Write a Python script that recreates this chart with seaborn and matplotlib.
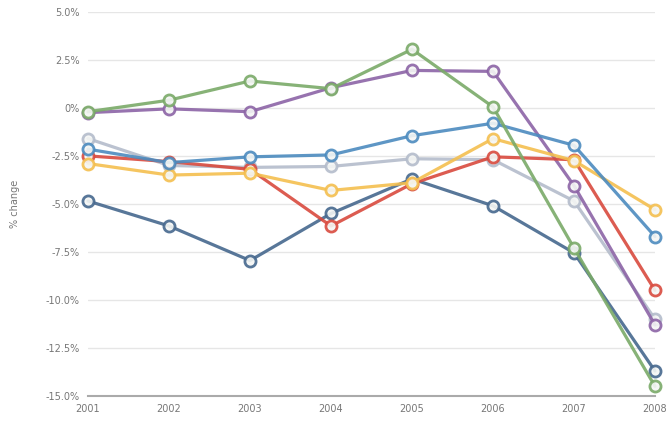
import pandas as pd
import seaborn as sns
import matplotlib.pyplot as plt

# years on the x axis
years = ['2001', '2002', '2003', '2004', '2005', '2006', '2007', '2008']

# % change per series
dark_blue = [-4.85, -6.15, -7.95, -5.5, -3.7, -5.1, -7.55, -13.7]
grey = [-1.6, -3.0, -3.1, -3.05, -2.65, -2.7, -4.85, -11.0]
purple = [-0.25, -0.05, -0.2, 1.05, 1.95, 1.9, -4.05, -11.3]
red = [-2.5, -2.8, -3.2, -6.15, -3.95, -2.55, -2.7, -9.5]
orange = [-2.9, -3.5, -3.4, -4.3, -3.9, -1.6, -2.75, -5.3]
blue = [-2.15, -2.85, -2.55, -2.45, -1.45, -0.8, -1.95, -6.7]
green = [-0.2, 0.4, 1.4, 1.0, 3.05, 0.05, -7.3, -14.5]

series = {
    'dark blue': dark_blue,
    'grey': grey,
    'purple': purple,
    'red': red,
    'orange': orange,
    'blue': blue,
    'green': green,
}
colors = {
    'dark blue': '#46688e',
    'grey': '#b4bccb',
    'purple': '#8c64a6',
    'red': '#d94a3e',
    'orange': '#f4bf4f',
    'blue': '#4c8bbf',
    'green': '#7aaa68',
}

rows = []
for name, vals in series.items():
    for i, v in enumerate(vals):
        rows.append({'pos': i, 'year': years[i], 'series': name, 'value': v})
df = pd.DataFrame(rows)

sns.set_style('white')
fig = plt.figure(figsize=(6.67, 4.23), dpi=100)
ax = fig.add_axes([0.132, 0.064, 0.85, 0.908])

sns.lineplot(data=df, x='pos', y='value', hue='series', palette=colors,
             marker='o', markersize=8, linewidth=2.3,
             legend=False, ax=ax)
for ln in ax.lines:
    ln.set_markeredgecolor(ln.get_color())
    ln.set_markeredgewidth(2)
    ln.set_markerfacecolor('#f4f6f4')
    ln.set_alpha(0.9)
    ln.set_clip_on(False)

ax.set_xlim(0, len(years) - 1)
ax.set_ylim(-15, 5)
ax.set_xticks(range(len(years)))
ax.set_xticklabels(years)
ticks = [5, 2.5, 0, -2.5, -5, -7.5, -10, -12.5, -15]
ax.set_yticks(ticks)
ax.set_yticklabels(['5.0%', '2.5%', '0%', '-2.5%', '-5.0%', '-7.5%',
                    '-10.0%', '-12.5%', '-15.0%'])
ax.grid(axis='y', color='#e6e6e6', linewidth=1)
ax.set_axisbelow(True)
for s in ['top', 'right', 'left']:
    ax.spines[s].set_visible(False)
ax.spines['bottom'].set_color('#aaaaaa')
ax.spines['bottom'].set_linewidth(1.5)
ax.tick_params(axis='both', labelsize=7, colors='#777777', length=0, pad=6)
ax.set_xlabel('')
ax.set_ylabel('% change', fontsize=7, color='#777777', labelpad=18)

fig.savefig('out.png', dpi=100)
